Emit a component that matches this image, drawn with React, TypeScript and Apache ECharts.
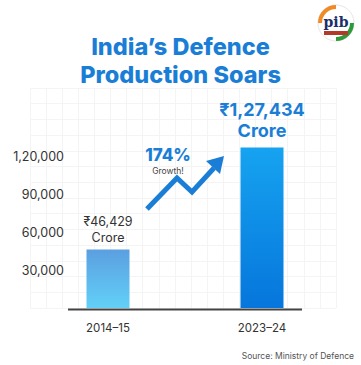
import React, { useEffect, useRef } from "react";
import * as echarts from "echarts";

const categories = ["2014–15", "2023–24"];
const values = [46429, 127434];
const valueLabels = ["₹46,429", "₹1,27,434"];
const yTicks = [0, 30000, 60000, 90000, 120000, 150000];
const growthText = "174%";

const FONT = "Inter, 'Noto Sans', sans-serif";
const BLUE = "#1a7ed6";

function fmtIndian(v: number): string {
  if (v === 0) return "";
  const s = String(v);
  const last3 = s.slice(-3);
  let rest = s.slice(0, -3);
  const parts: string[] = [];
  while (rest.length > 2) {
    parts.unshift(rest.slice(-2));
    rest = rest.slice(0, -2);
  }
  if (rest) parts.unshift(rest);
  return parts.length ? parts.join(",") + "," + last3 : last3;
}

export default function App() {
  const ref = useRef<HTMLDivElement>(null);
  useEffect(() => {
    document.body.style.margin = "0";
    const chart = echarts.init(ref.current!, null, { renderer: "svg" });
    const option: any = {
      animation: false,
      backgroundColor: "#ffffff",
      title: {
        text: "India’s Defence\nProduction Soars",
        left: "center",
        top: 27,
        textStyle: {
          fontFamily: FONT,
          fontSize: 23.5,
          fontWeight: 800,
          color: BLUE,
          lineHeight: 28,
        },
      },
      grid: [
        { left: 31, right: 22, top: 119, bottom: 57, containLabel: false },
        { left: 30, right: 25, top: 88, bottom: 57, containLabel: false },
      ],
      xAxis: [
        {
          type: "category",
          gridIndex: 0,
          data: categories,
          axisLine: { show: false },
          axisTick: { show: false },
          axisLabel: {
            margin: 14,
            fontFamily: FONT,
            fontSize: 11.5,
            color: "#333",
          },
        },
        {
          type: "value",
          gridIndex: 1,
          min: 0,
          max: 19,
          interval: 1,
          axisLine: { show: false },
          axisTick: { show: false },
          axisLabel: { show: false },
          splitLine: { show: true, lineStyle: { color: "#f4f4f4", width: 1 } },
        },
      ],
      yAxis: [
        {
          type: "value",
          gridIndex: 0,
          min: yTicks[0],
          max: yTicks[yTicks.length - 1],
          interval: yTicks[1] - yTicks[0],
          offset: -41,
          axisLine: { show: false },
          axisTick: { show: false },
          splitLine: { show: false },
          axisLabel: {
            margin: 8,
            fontFamily: FONT,
            fontSize: 12.5,
            color: "#333",
            padding: [0, 0, 6, 0],
            formatter: (v: number) => (v >= 150000 ? "" : fmtIndian(v)),
          },
        },
        {
          type: "value",
          gridIndex: 1,
          min: 0,
          max: 14,
          interval: 1,
          axisLine: { show: false },
          axisTick: { show: false },
          axisLabel: { show: false },
          splitLine: { show: true, lineStyle: { color: "#f4f4f4", width: 1 } },
        },
      ],
      series: [
        {
          type: "bar",
          xAxisIndex: 0,
          yAxisIndex: 0,
          barWidth: 43,
          z: 3,
          data: [
            {
              value: values[0],
              itemStyle: {
                color: new echarts.graphic.LinearGradient(0, 0, 0, 1, [
                  { offset: 0, color: "#5b9fe0" },
                  { offset: 1, color: "#62d0f8" },
                ]),
              },
              label: {
                show: true,
                position: "top",
                distance: 4,
                formatter: valueLabels[0] + "\nCrore",
                fontFamily: FONT,
                fontSize: 12.5,
                lineHeight: 16,
                color: "#333",
              },
            },
            {
              value: values[1],
              itemStyle: {
                color: new echarts.graphic.LinearGradient(0, 0, 0, 1, [
                  { offset: 0, color: "#16a3f0" },
                  { offset: 1, color: "#0676dc" },
                ]),
              },
              label: {
                show: true,
                position: "top",
                distance: 6,
                formatter: valueLabels[1] + "\nCrore",
                fontFamily: FONT,
                fontSize: 18,
                fontWeight: 700,
                lineHeight: 21,
                color: BLUE,
              },
            },
          ],
        },
      ],
      graphic: [
        {
          type: "line",
          shape: { x1: 68, y1: 309.5, x2: 302, y2: 309.5 },
          style: { stroke: "#444", lineWidth: 2 },
          z: 10,
        },
        {
          type: "polyline",
          shape: {
            points: [
              [147, 209],
              [177, 178],
              [192, 192],
              [214, 168],
            ],
          },
          style: { stroke: BLUE, lineWidth: 5, fill: null, lineJoin: "miter" },
          z: 10,
        },
        {
          type: "polygon",
          shape: {
            points: [
              [224, 156],
              [220, 174],
              [206, 161],
            ],
          },
          style: { fill: BLUE },
          z: 10,
        },
        {
          type: "text",
          x: 168,
          y: 155,
          style: {
            text: growthText,
            fill: BLUE,
            font: `800 17px ${FONT}`,
            textAlign: "center",
            textVerticalAlign: "middle",
          },
          z: 10,
        },
        {
          type: "text",
          x: 168,
          y: 171,
          style: {
            text: "Growth!",
            fill: "#444",
            font: `400 8.5px ${FONT}`,
            textAlign: "center",
            textVerticalAlign: "middle",
          },
          z: 10,
        },
        {
          type: "text",
          x: 354,
          y: 356,
          style: {
            text: "Source: Ministry of Defence",
            fill: "#555",
            font: `400 8.5px ${FONT}`,
            textAlign: "right",
            textVerticalAlign: "middle",
          },
          z: 10,
        },
        {
          type: "circle",
          shape: { cx: 336, cy: 23, r: 18 },
          style: { fill: "#ffffff", stroke: "#e6e6e6", lineWidth: 1 },
          z: 10,
        },
        {
          type: "arc",
          shape: { cx: 336, cy: 23, r: 16, startAngle: Math.PI, endAngle: Math.PI * 1.5 },
          style: { stroke: "#f08a24", lineWidth: 4, fill: null },
          z: 11,
        },
        {
          type: "arc",
          shape: { cx: 336, cy: 23, r: 16, startAngle: 0, endAngle: Math.PI * 0.5 },
          style: { stroke: "#2e9a3c", lineWidth: 4, fill: null },
          z: 11,
        },
        {
          type: "text",
          x: 336,
          y: 22,
          style: {
            text: "pib",
            fill: "#1d2f6b",
            font: `700 14px 'DejaVu Serif', serif`,
            textAlign: "center",
            textVerticalAlign: "middle",
          },
          z: 12,
        },
        {
          type: "rect",
          shape: { x: 324, y: 31, width: 24, height: 4 },
          style: { fill: "#b23a2a" },
          z: 12,
        },
      ],
    };
    chart.setOption(option);
    return () => chart.dispose();
  }, []);
  return <div ref={ref} style={{ width: 361, height: 365 }} />;
}
